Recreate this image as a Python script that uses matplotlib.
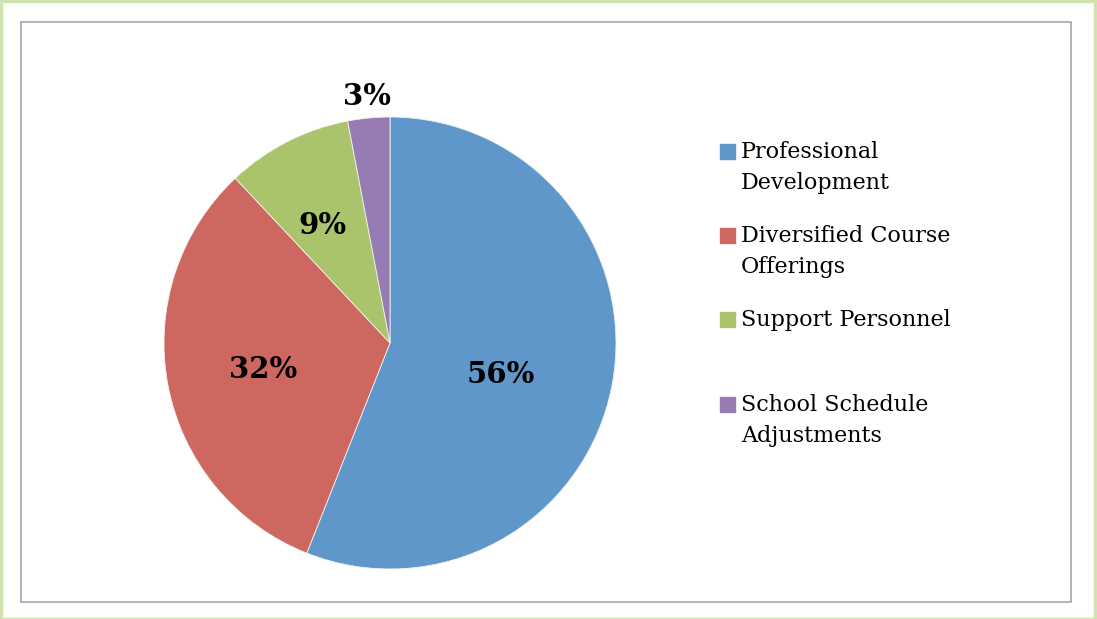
import numpy as np
import matplotlib.pyplot as plt
from matplotlib.patches import Rectangle

# spending categories and their shares (percent)
categories = ["Professional\nDevelopment", "Diversified Course\nOfferings",
              "Support Personnel", "School Schedule\nAdjustments"]
shares = [56, 32, 9, 3]
colors = ["#5F97CB", "#CD675F", "#AAC46C", "#967CB3"]

W, H = 1097, 619
fig = plt.figure(figsize=(W / 100, H / 100), dpi=100)
fig.patch.set_facecolor("white")


def px_box(x0, y0, x1, y1):
    # pixel box (top-left origin) -> figure fraction rect
    return [x0 / W, 1 - y1 / H, (x1 - x0) / W, (y1 - y0) / H]


# page border (light green) and chart frame (gray)
fig.add_artist(Rectangle((1 / W, 0), 1 - 3 / W, 1 - 1 / H, transform=fig.transFigure,
                         fill=False, edgecolor="#D0E2AE", linewidth=2.5))
fig.add_artist(Rectangle((21 / W, 1 - 602 / H), 1050 / W, 580 / H, transform=fig.transFigure,
                         fill=False, edgecolor="#A6A6A6", linewidth=1.2))

ax = fig.add_axes(px_box(164, 117, 616, 569))
wedges, _, pct = ax.pie(shares, colors=colors, startangle=90, counterclock=False,
                        autopct="%d%%", pctdistance=0.55,
                        wedgeprops=dict(edgecolor="#F2F2F2", linewidth=0.6),
                        textprops=dict(family="DejaVu Serif", fontsize=21,
                                       fontweight="bold", color="black"))
ax.set_xlim(-1, 1)
ax.set_ylim(-1, 1)
ax.set_aspect("equal")
ax.axis("off")

# label placement: radius and small angle tweak for each slice
label_r = [0.51, 0.575, 0.60, 1.095]
label_da = [-5, 1, 3, 0]
for w, t, r, da in zip(wedges, pct, label_r, label_da):
    mid = np.deg2rad((w.theta1 + w.theta2) / 2 + da)
    t.set_position((r * np.cos(mid), r * np.sin(mid)))

# legend drawn by hand to keep Excel-style spacing
leg_y = [152, 236, 320, 405]
for y, c, lab in zip(leg_y, colors, categories):
    fig.add_artist(Rectangle((720 / W, 1 - (y + 7) / H), 15 / W, 15 / H,
                             transform=fig.transFigure, color=c))
    fig.text(741 / W, 1 - (y - 11) / H, lab, ha="left", va="top",
             family="DejaVu Serif", fontsize=16, linespacing=1.55, color="black")

fig.savefig("out.png", dpi=100)
